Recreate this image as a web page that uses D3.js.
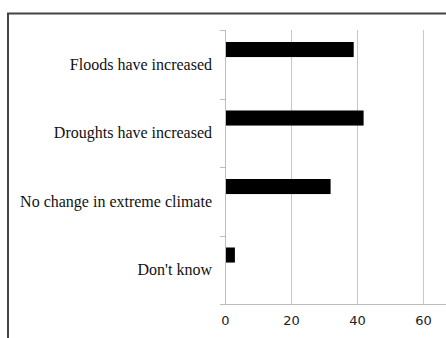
<!DOCTYPE html>
<html>
<head>
<meta charset="utf-8">
<script src="https://cdn.jsdelivr.net/npm/d3@7"></script>
<style>
body { margin: 0; background: #fff; }
</style>
</head>
<body>
<svg id="chart" width="446" height="338"></svg>
<script>
var categories = ["Floods have increased", "Droughts have increased", "No change in extreme climate", "Don't know"];
var values = [39, 42, 32, 3];
var xTicks = [0, 20, 40, 60];

var svg = d3.select("#chart"),
	width = +svg.attr("width"),
	height = +svg.attr("height"),
	margin = { top: 30, left: 225, right: 0, bottom: 34 };

// outer frame
svg.append("path")
	.attr("d", "M8,338 V13.5 H446")
	.attr("fill", "none")
	.attr("stroke", "#444")
	.attr("stroke-width", 2);

var x = d3.scaleLinear()
	.domain([0, 60])
	.range([margin.left, 423]);

var y = d3.scaleBand()
	.domain(categories)
	.range([margin.top, height - margin.bottom]);

// gridlines
svg.append("g").selectAll("line")
	.data(xTicks.slice(1))
	.enter().append("line")
	.attr("x1", function(d) { return x(d) + 0.5; })
	.attr("x2", function(d) { return x(d) + 0.5; })
	.attr("y1", margin.top)
	.attr("y2", height - margin.bottom)
	.attr("stroke", "#c8c8c8")
	.attr("stroke-width", 1);

// bars
svg.append("g").selectAll("rect")
	.data(values)
	.enter().append("rect")
	.attr("x", x(0))
	.attr("y", function(d, i) { return y(categories[i]) + y.bandwidth() * 0.175; })
	.attr("width", function(d) { return x(d) - x(0); })
	.attr("height", y.bandwidth() * 0.22)
	.attr("fill", "#000");

// x axis
var xAxis = svg.append("g")
	.attr("transform", "translate(0," + (height - margin.bottom + 0.5) + ")")
	.call(d3.axisBottom(x).tickValues(xTicks).tickSize(0).tickPadding(11));
xAxis.select(".domain").remove();
xAxis.append("line")
	.attr("x1", margin.left - 5)
	.attr("x2", width)
	.attr("stroke", "#bdbdbd");
xAxis.selectAll("text")
	.attr("fill", "#222")
	.style("font-family", "'DejaVu Sans', sans-serif")
	.style("font-size", "13px");

// y axis
var yTickPos = categories.map(function(c) { return y(c); });
var yAxis = svg.append("g");
yAxis.append("line")
	.attr("x1", margin.left + 0.5)
	.attr("x2", margin.left + 0.5)
	.attr("y1", margin.top)
	.attr("y2", height - margin.bottom)
	.attr("stroke", "#bdbdbd");
yAxis.selectAll("line.tick")
	.data(yTickPos)
	.enter().append("line")
	.attr("class", "tick")
	.attr("x1", margin.left - 5)
	.attr("x2", margin.left)
	.attr("y1", function(d) { return Math.round(d) + 0.5; })
	.attr("y2", function(d) { return Math.round(d) + 0.5; })
	.attr("stroke", "#bdbdbd");

svg.append("g").selectAll("text")
	.data(categories)
	.enter().append("text")
	.attr("x", 212)
	.attr("y", function(d) { return y(d) + y.bandwidth() / 2; })
	.attr("dy", "0.35em")
	.attr("text-anchor", "end")
	.style("font-family", "'Liberation Serif', 'Times New Roman', serif")
	.style("font-size", "16px")
	.attr("fill", "#111")
	.text(function(d) { return d; });
</script>
</body>
</html>
